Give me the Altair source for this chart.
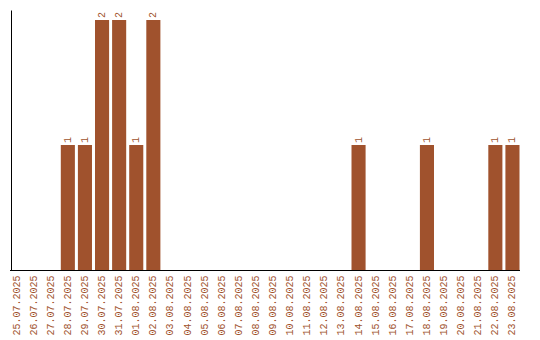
import altair as alt
import pandas as pd

dates = ["25.07.2025", "26.07.2025", "27.07.2025", "28.07.2025", "29.07.2025",
         "30.07.2025", "31.07.2025", "01.08.2025", "02.08.2025", "03.08.2025",
         "04.08.2025", "05.08.2025", "06.08.2025", "07.08.2025", "08.08.2025",
         "09.08.2025", "10.08.2025", "11.08.2025", "12.08.2025", "13.08.2025",
         "14.08.2025", "15.08.2025", "16.08.2025", "17.08.2025", "18.08.2025",
         "19.08.2025", "20.08.2025", "21.08.2025", "22.08.2025", "23.08.2025"]
counts = [0, 0, 0, 1, 1, 2, 2, 1, 2, 0,
          0, 0, 0, 0, 0, 0, 0, 0, 0, 0,
          1, 0, 0, 0, 1, 0, 0, 0, 1, 1]

df = pd.DataFrame({"date": dates, "count": counts})
color = "#A0522D"
font = "Liberation Mono"

x = alt.X("date:N", sort=dates, title=None,
          scale=alt.Scale(paddingInner=0.176, paddingOuter=0.0, range=[-1.5, 508.5]),
          axis=alt.Axis(labelAngle=-90, labelFont=font, labelFontSize=10,
                        labelColor=color, ticks=False, labelPadding=5,
                        domainColor="#000000", labelBaseline="middle",
                        labelAlign="right"))
y = alt.Y("count:Q", title=None, scale=alt.Scale(domain=[0, 2.08], nice=False),
          axis=alt.Axis(labels=False, ticks=False, grid=False, domainColor="#000000"))

bars = alt.Chart(df).mark_bar(color=color).encode(x=x, y=y)
labels = alt.Chart(df).transform_filter("datum.count > 0").mark_text(
    angle=270, align="left", baseline="middle", dx=2, font=font, fontSize=10, color=color
).encode(x=alt.X("date:N", sort=dates), y="count:Q", text="count:Q")

chart = (bars + labels).properties(
    width=520, height=260,
    background="white",
    autosize=alt.AutoSizeParams(type="none"),
    padding={"left": 11, "top": 10, "right": 9, "bottom": 70},
).configure_view(stroke=None)

chart.save("out.html", embed_options={"renderer": "svg", "actions": False})
